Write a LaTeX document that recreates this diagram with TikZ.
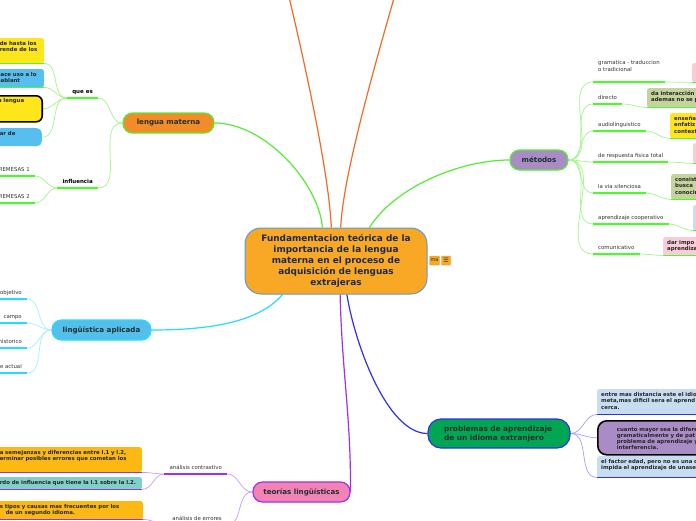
\documentclass[tikz,border=0pt]{standalone}
\usepackage{fontspec}
\setmainfont{DejaVu Sans}
\usetikzlibrary{backgrounds}
\definecolor{cenfill}{HTML}{F8A824}
\definecolor{cenedge}{HTML}{5B9BD5}
\definecolor{cennavy}{HTML}{1B2A4A}
\definecolor{lmfill}{HTML}{F28C28}
\definecolor{metfill}{HTML}{A98CC6}
\definecolor{lafill}{HTML}{55BFEB}
\definecolor{probfill}{HTML}{00A651}
\definecolor{teofill}{HTML}{F283B4}
\definecolor{lyellow}{HTML}{FFE61A}
\definecolor{lblue}{HTML}{56BFEF}
\definecolor{lorange}{HTML}{FDB913}
\definecolor{lteal}{HTML}{7FD0C6}
\definecolor{lpink}{HTML}{F9CCDA}
\definecolor{lolive}{HTML}{C5D49C}
\definecolor{lsky}{HTML}{C7DDF1}
\definecolor{mmgreen}{HTML}{55EE33}
\definecolor{mmlime}{HTML}{44FF22}
\definecolor{mmlgreen}{HTML}{A4F58C}
\definecolor{mmcyan}{HTML}{22DDFF}
\definecolor{mmlcyan}{HTML}{A6EEFF}
\definecolor{mmblue}{HTML}{3030F0}
\definecolor{mmlblue}{HTML}{A0A0FF}
\definecolor{mmpurple}{HTML}{A030F0}
\definecolor{mmlpurple}{HTML}{CC99FF}
\definecolor{mmred}{HTML}{F26A2A}
\definecolor{mmdark}{HTML}{1E3030}
\definecolor{mmgrey}{HTML}{333333}

\begin{document}
\begin{tikzpicture}[x=1pt, y=-1pt,
  central/.style={rounded corners=16pt, draw=cenedge, line width=1pt, fill=cenfill, text=cennavy, font=\fontsize{8.9}{11}\selectfont\bfseries, align=center, minimum width=182pt, minimum height=66pt},
  topic/.style={rounded corners=9.5pt, line width=1.2pt, minimum height=20pt, text=mmdark, font=\fontsize{7.1}{9}\selectfont\bfseries},
  sub/.style={inner xsep=5pt, inner ysep=2.5pt, text depth=1.5pt, text=mmgrey, font=\fontsize{5.4}{6.5}\selectfont, align=left},
  subb/.style={sub, text=black, font=\fontsize{5.5}{6.5}\selectfont\bfseries},
  leaf/.style={rounded corners=2pt, inner xsep=4pt, inner ysep=3pt, text height=4pt, text=black!85, font=\fontsize{5.4}{6.5}\selectfont\bfseries, align=left},
  icon/.style={draw=lmfill, fill=cenfill, rounded corners=1pt, inner sep=0pt, minimum height=9pt, text=mmdark, font=\fontsize{5}{5}\selectfont},
  conn/.style={line width=0.7pt},
  mainc/.style={line width=1.2pt},
  uline/.style={line width=1.8pt}
]
\useasboundingbox (0,0) rectangle (696,520);
\clip (0,0) rectangle (696,520);

% centre
\node[central] (fund) at (336,261) {Fundamentacion teórica de la\\importancia de la lengua\\materna en el proceso de\\adquisición de lenguas\\extrajeras};
\node[icon, minimum width=10pt] (mabox) at (434.5,260.5) {ma};
\node[icon, minimum width=9pt, font=\fontsize{6}{6}\selectfont] (menubox) at (446,260.5) {☰};
\coordinate (topl) at (280,-40);
\coordinate (topr) at (405,-40);

% main topics
\node[topic, fill=lmfill, draw=mmgreen, minimum width=91pt] (lm) at (168.5,123) {lengua materna};
\node[topic, fill=metfill, draw=mmgreen, minimum width=58pt] (met) at (539,160) {métodos};
\node[topic, fill=lafill, draw=mmcyan, minimum width=99pt] (la) at (101.5,330) {lingüística aplicada};
\node[topic, fill=probfill, draw=mmblue, minimum height=29pt, rounded corners=13pt, text width=110pt, inner xsep=16pt, align=left, font=\fontsize{7.4}{9}\selectfont\bfseries] (prob) at (499,433.5) {problemas de aprendizaje\\de un idioma extranjero};
\node[topic, fill=teofill, draw=mmpurple, minimum width=97pt] (teo) at (301.5,492) {teorías lingüísticas};

% lengua materna
\node[subb, anchor=south east] (quees) at (98,98) {que es};
\node[subb, anchor=south east] (infl) at (98,188) {influencia};
\node[sub, anchor=south east] (prem1) at (35,176) {REMESAS 1};
\node[sub, anchor=south east] (prem2) at (35,203) {REMESAS 2};
\node[leaf, fill=lyellow, anchor=north east, text width=40pt, text depth=15pt] (def1) at (44,38) {de hasta los\\rende de los};
\node[leaf, fill=lblue, anchor=north east, text width=43pt, text depth=8pt] (def2) at (44,69) {hace uso a lo\\hablant};
\node[leaf, fill=lyellow, draw=black, line width=1.6pt, rounded corners=6pt, anchor=north east, text width=42pt, text depth=16pt] (def3) at (43,95) {la lengua};
\node[leaf, fill=lblue, rounded corners=5pt, anchor=north east, text width=38pt, text depth=8pt] (def4) at (42,128) {ar de};

% linguistica aplicada
\node[sub, anchor=south east] (obj) at (27,299) {objetivo};
\node[sub, anchor=south east] (campo) at (27,323) {campo};
\node[sub, anchor=south east] (hist) at (27,348) {historico};
\node[sub, anchor=south east] (actual) at (27,373) {e actual};

% metodos
\node[sub, anchor=south west, text depth=8pt] (gram) at (593,82) {gramatica - traduccion\\o tradicional};
\node[sub, anchor=south west] (dir) at (593,104) {directo};
\node[sub, anchor=south west] (audio) at (593,131) {audiolinguistico};
\node[sub, anchor=south west] (resp) at (593,162) {de respuesta fisica total};
\node[sub, anchor=south west] (via) at (593,193) {la via silenciosa};
\node[sub, anchor=south west] (coop) at (593,224) {aprendizaje cooperativo};
\node[sub, anchor=south west] (comu) at (593,254) {comunicativo};
\node[leaf, fill=lpink, anchor=north west, text width=60pt, text depth=9pt] (bgram) at (692,63) {};
\node[leaf, fill=lolive, anchor=north west, text width=90pt, text depth=9pt] (bdir) at (647,88) {da interacción\\ademas no se p};
\node[leaf, fill=lyellow, anchor=north west, text width=90pt, text depth=15pt] (baudio) at (670,113) {enseña\\enfatiz\\context};
\node[leaf, fill=lpink, anchor=north west, text width=60pt, text depth=10pt] (bresp) at (693,143) {};
\node[leaf, fill=lolive, anchor=north west, text width=90pt, text depth=15pt] (bvia) at (671,174) {consist\\busca\\conocin};
\node[leaf, fill=lsky, anchor=north west, text width=60pt, text depth=15pt] (bcoop) at (693,205) {};
\node[leaf, fill=lpink, anchor=north west, text width=90pt, text depth=8pt] (bcomu) at (663,237) {dar impo\\aprendiza};

% problemas
\node[leaf, fill=lsky, anchor=north west, text width=120pt, text depth=15pt] (pr1) at (597,389) {entre mas distancia este el idio\\meta,mas dificil sera el aprend\\cerca.};
\node[leaf, fill=metfill, draw=black, line width=1.6pt, rounded corners=9pt, inner xsep=19pt, anchor=north west, text width=120pt, text height=7.8pt, text depth=20.2pt, font=\fontsize{5.4}{6}\selectfont\bfseries] (pr2) at (597,420) {cuanto mayor sea la difere\\gramaticalmente y de pat\\problema de aprendizaje y\\interferencia.};
\node[leaf, fill=lsky, anchor=north west, text width=120pt, text depth=11pt] (pr3) at (597,456) {el factor edad, pero no es una c\\impida el aprendizaje de unaseg};

% teorias
\node[sub, anchor=south east] (contr) at (227,474) {análisis contrastivo};
\node[sub, anchor=south east] (errs) at (227,525) {análisis de errores};
\node[leaf, fill=lorange, anchor=north east, text width=138pt, text depth=15pt] (ca1) at (142,447) {a semejanzas y diferencias entre l.1 y l.2,\\erminar posibles errores que cometan los};
\node[leaf, fill=lteal, anchor=north east, text width=138pt, text depth=2pt] (ca2) at (142,477) {rdo de influencia que tiene la l.1 sobre la l.2.};
\node[leaf, fill=lorange, anchor=north east, text width=139pt, text depth=8pt] (ae1) at (143,501) {s tipos y causas mas frecuentes por los\\\hspace*{6pt}de un segundo idioma.};

% underlines
\draw[uline, mmlime] (quees.south west) -- (quees.south east) (infl.south west) -- (infl.south east)
  (prem1.south west) -- (prem1.south east) (prem2.south west) -- (prem2.south east)
  (def1.south west) -- (def1.south east) (def2.south west) -- (def2.south east);
\draw[uline, mmlime] (gram.south west) -- (gram.south east) (dir.south west) -- (dir.south east)
  (audio.south west) -- (audio.south east) (resp.south west) -- (resp.south east)
  (via.south west) -- (via.south east) (coop.south west) -- (coop.south east)
  (comu.south west) -- (comu.south east);
\draw[uline, mmlime] (bgram.south west) -- (bgram.south east) (bdir.south west) -- (bdir.south east)
  (baudio.south west) -- (baudio.south east) (bresp.south west) -- (bresp.south east)
  (bvia.south west) -- (bvia.south east) (bcoop.south west) -- (bcoop.south east)
  (bcomu.south west) -- (bcomu.south east);
\draw[uline, mmcyan] (obj.south west) -- (obj.south east) (campo.south west) -- (campo.south east)
  (hist.south west) -- (hist.south east) (actual.south west) -- (actual.south east);
\draw[uline, mmblue] (pr1.south west) -- (pr1.south east) (pr3.south west) -- (pr3.south east);
\draw[uline, mmpurple] (contr.south west) -- (contr.south east) (errs.south west) -- (errs.south east)
  (ca1.south west) -- (ca1.south east) (ca2.south west) -- (ca2.south east)
  (ae1.south west) -- (ae1.south east);

\begin{scope}[on background layer]
\fill[white] (0,0) rectangle (696,520);
\clip (0,0) rectangle (696,520);
% main branches
\draw[mainc, mmred] (fund.98) .. controls (329,170) and (300,40) .. (topl);
\draw[mainc, mmred] (fund.82) .. controls (343,170) and (385,30) .. (topr);
\draw[mainc, mmgreen] (lm.east) .. controls +(50,0) and +(-4,-45) .. (fund.112);
\draw[mainc, mmgreen] (fund.45) .. controls +(25,-40) and +(-50,0) .. (met.west);
\draw[mainc, mmcyan] (fund.212) .. controls +(-25,30) and +(50,0) .. (la.east);
\draw[mainc, mmblue] (fund.288) .. controls +(8,50) and +(-40,0) .. (prob.west);
\draw[mainc, mmpurple] (fund.277) .. controls +(2,80) and +(0,-80) .. (teo.east);
% lengua materna
\draw[conn, mmlgreen] (lm.west) to[out=180, in=0] (quees.south east);
\draw[conn, mmlgreen] (lm.west) to[out=180, in=0] (infl.south east);
\draw[conn, mmlgreen] (quees.south west) to[out=180, in=0] (def1.south east);
\draw[conn, mmlgreen] (quees.south west) to[out=180, in=0] (def2.south east);
\draw[conn, mmlgreen] (quees.south west) to[out=180, in=0] (def3.east);
\draw[conn, mmlgreen] (quees.south west) to[out=180, in=0] (def4.east);
\draw[conn, mmlgreen] (infl.south west) to[out=180, in=0] (prem1.south east);
\draw[conn, mmlgreen] (infl.south west) to[out=180, in=0] (prem2.south east);
% linguistica aplicada
\draw[conn, mmlcyan] (la.west) to[out=180, in=0] (obj.south east);
\draw[conn, mmlcyan] (la.west) to[out=180, in=0] (campo.south east);
\draw[conn, mmlcyan] (la.west) to[out=180, in=0] (hist.south east);
\draw[conn, mmlcyan] (la.west) to[out=180, in=0] (actual.south east);
% metodos
\draw[conn, mmlgreen] (met.east) to[out=0, in=180] (gram.south west);
\draw[conn, mmlgreen] (met.east) to[out=0, in=180] (dir.south west);
\draw[conn, mmlgreen] (met.east) to[out=0, in=180] (audio.south west);
\draw[conn, mmlgreen] (met.east) to[out=0, in=180] (resp.south west);
\draw[conn, mmlgreen] (met.east) to[out=0, in=180] (via.south west);
\draw[conn, mmlgreen] (met.east) to[out=0, in=180] (coop.south west);
\draw[conn, mmlgreen] (met.east) to[out=0, in=180] (comu.south west);
\draw[conn, mmlgreen] (gram.south east) to[out=0, in=180] (bgram.south west);
\draw[conn, mmlgreen] (dir.south east) to[out=0, in=180] (bdir.south west);
\draw[conn, mmlgreen] (audio.south east) to[out=0, in=180] (baudio.south west);
\draw[conn, mmlgreen] (resp.south east) to[out=0, in=180] (bresp.south west);
\draw[conn, mmlgreen] (via.south east) to[out=0, in=180] (bvia.south west);
\draw[conn, mmlgreen] (coop.south east) to[out=0, in=180] (bcoop.south west);
\draw[conn, mmlgreen] (comu.south east) to[out=0, in=180] (bcomu.south west);
% problemas
\draw[conn, mmlblue] (prob.east) to[out=0, in=180] (pr1.south west);
\draw[conn, mmlblue] (prob.east) to[out=0, in=180] (pr2.west);
\draw[conn, mmlblue] (prob.east) to[out=0, in=180] (pr3.south west);
% teorias
\draw[conn, mmlpurple] (teo.west) to[out=180, in=0] (contr.south east);
\draw[conn, mmlpurple] (teo.west) to[out=180, in=0] (errs.south east);
\draw[conn, mmlpurple] (contr.south west) to[out=180, in=0] (ca1.south east);
\draw[conn, mmlpurple] (contr.south west) to[out=180, in=0] (ca2.south east);
\draw[conn, mmlpurple] (errs.south west) to[out=180, in=0] (ae1.south east);
\end{scope}
\end{tikzpicture}
\end{document}
